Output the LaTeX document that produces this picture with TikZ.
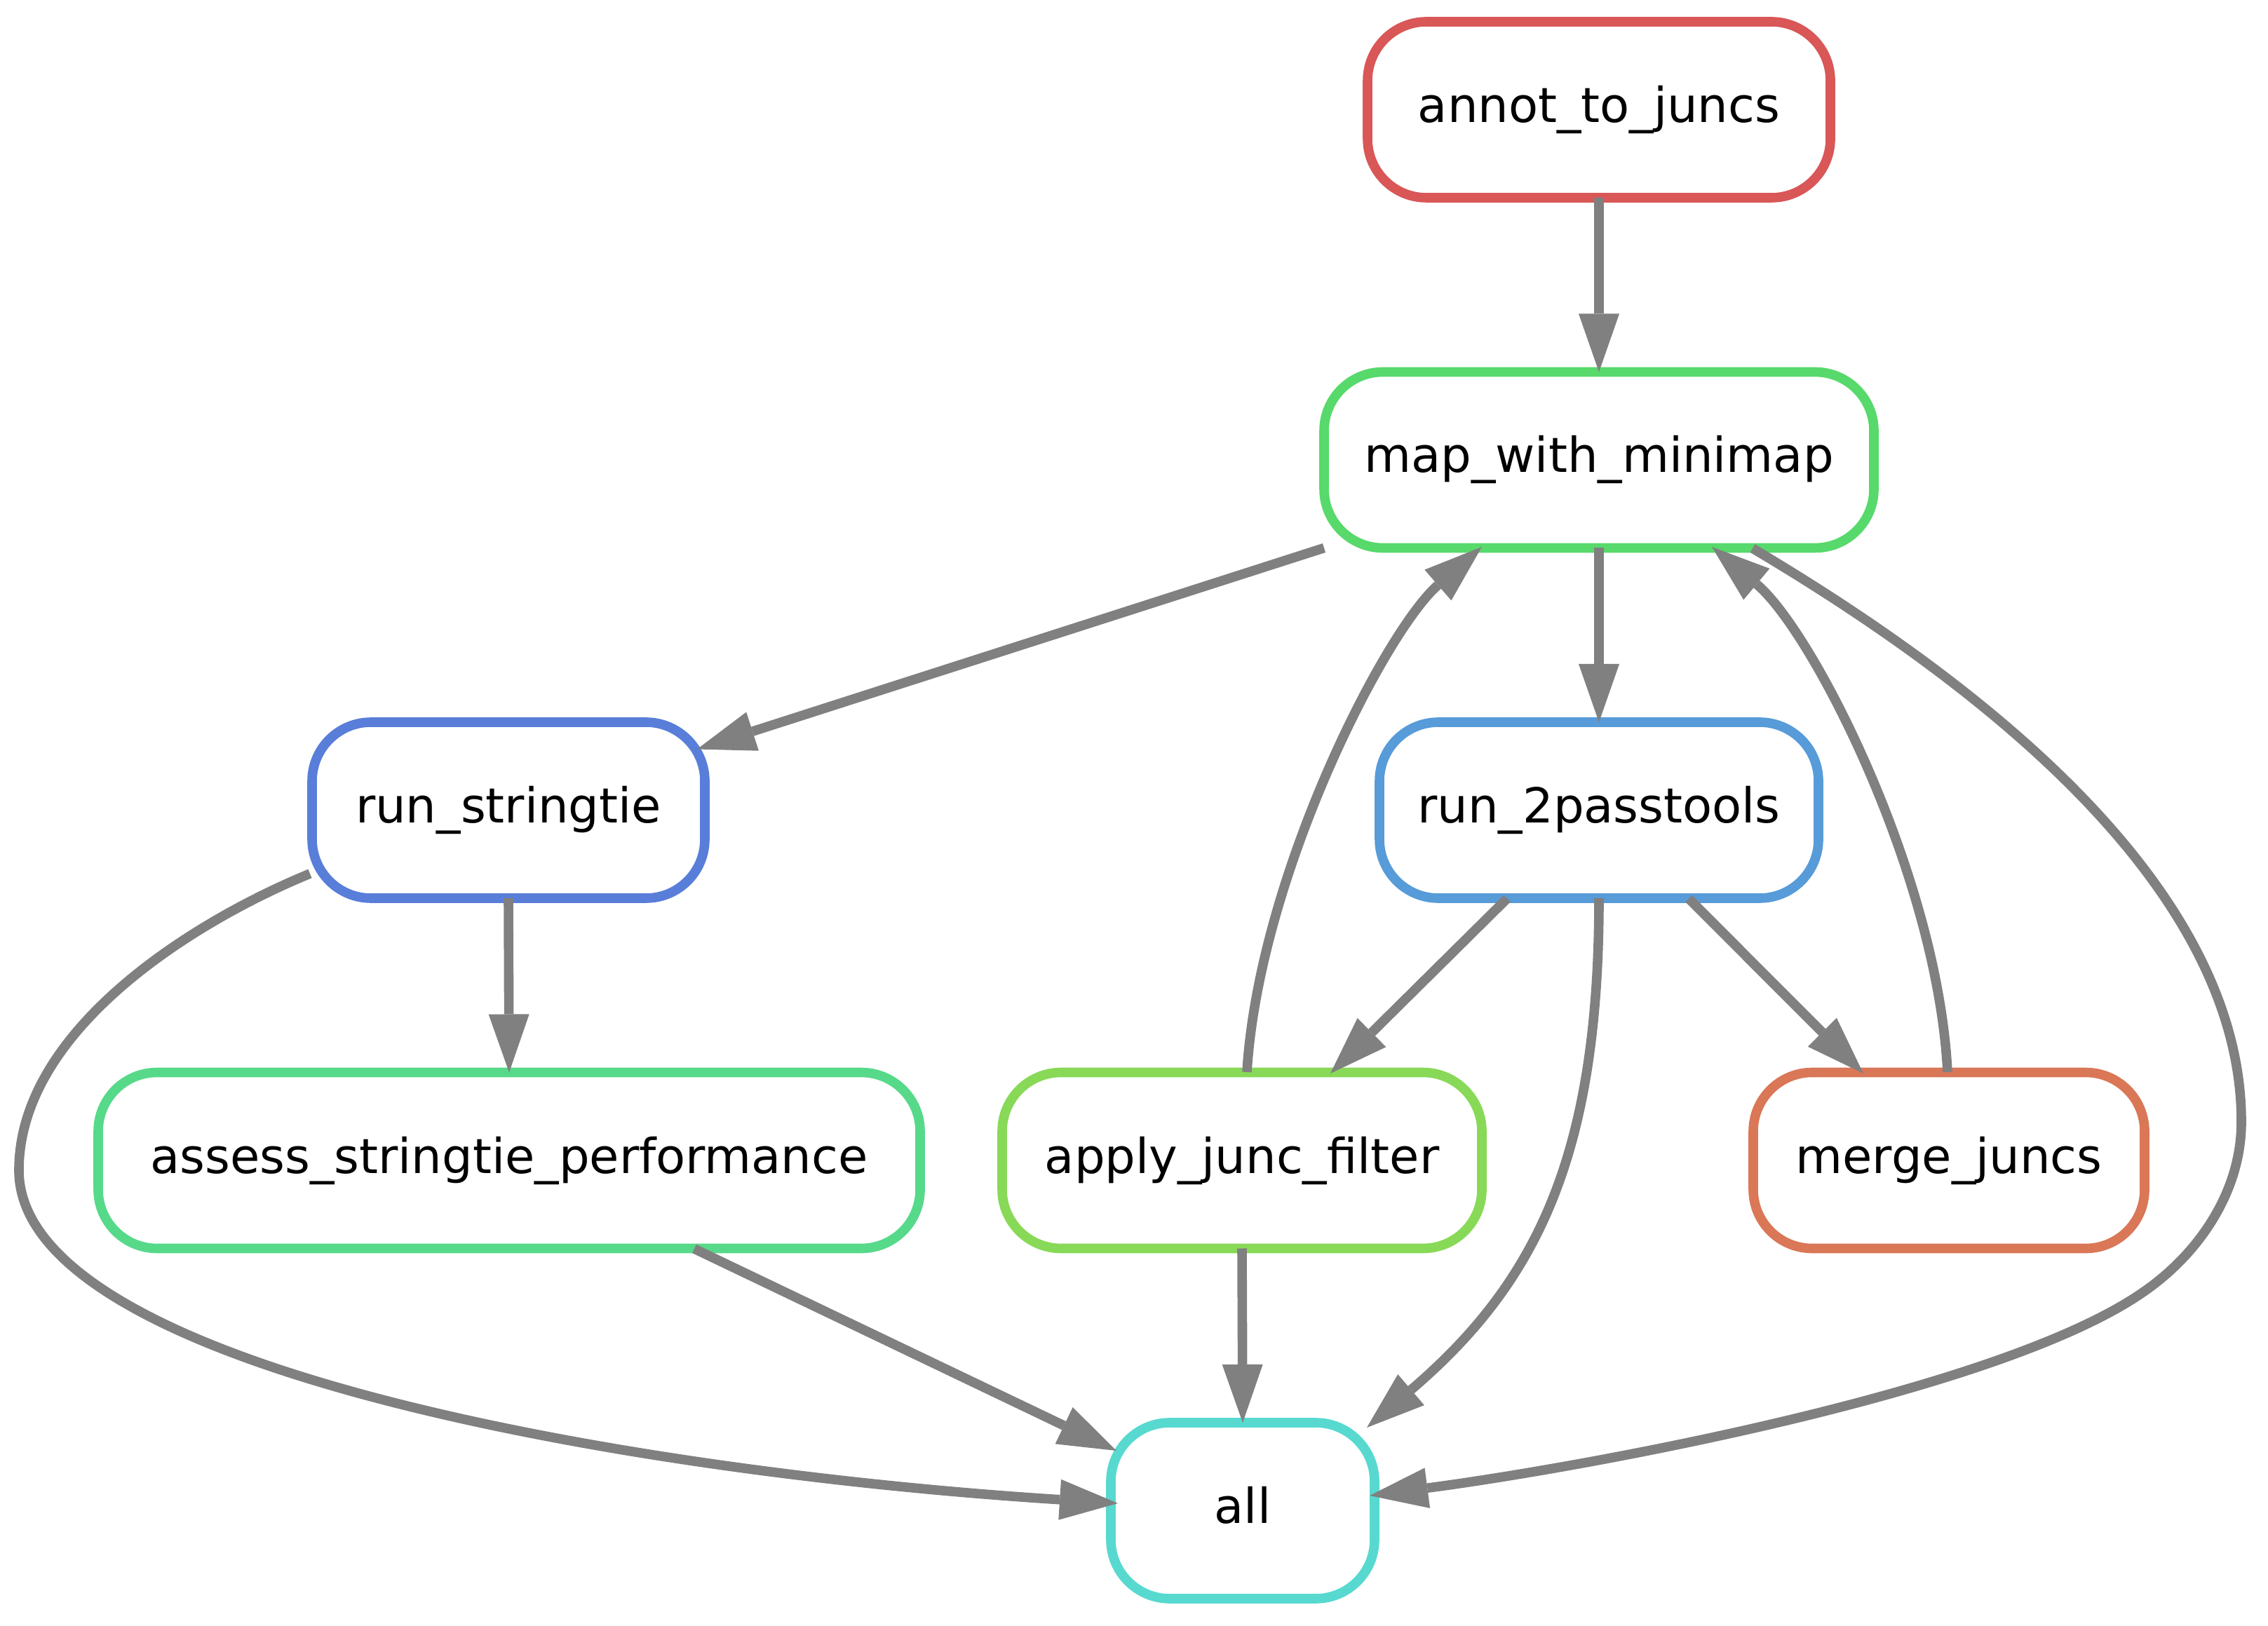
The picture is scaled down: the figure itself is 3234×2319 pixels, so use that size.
\documentclass[tikz,border=0pt]{standalone}
\usepackage{fontspec}
\newfontfamily\dvsans{DejaVu Sans}
\usetikzlibrary{arrows.meta,calc}
\definecolor{cannot}{HTML}{D95757}
\definecolor{cmap}{HTML}{57D96B}
\definecolor{cstring}{HTML}{587ED9}
\definecolor{ctwopass}{HTML}{579BD9}
\definecolor{cassess}{HTML}{57D98A}
\definecolor{capply}{HTML}{88D957}
\definecolor{cmerge}{HTML}{D97757}
\definecolor{call}{HTML}{57D9D0}
\definecolor{edgegray}{HTML}{808080}
\begin{document}
\begin{tikzpicture}[x=0.25pt,y=-0.25pt,
  rulebox/.style={draw=#1, line width=3.4pt, rounded corners=21pt, fill=white,
    rectangle, minimum height=62.75pt, inner sep=0pt, outer sep=0pt,
    font=\dvsans\fontsize{17.2pt}{20pt}\selectfont, text height=12pt, text depth=3pt},
  conn/.style={draw=edgegray, line width=3.4pt,
    -{Triangle[length=20.75pt,width=14.5pt,line width=0pt]}}]
\fill[white] (0,0) rectangle (3234,2319);
\useasboundingbox (0,0) rectangle (3234,2319);

\node[rulebox=cannot, minimum width=165pt] (annot) at (2280,156.5) {annot\_to\_juncs};
\node[rulebox=cmap, minimum width=196pt] (map) at (2280,656) {map\_with\_minimap};
\node[rulebox=cstring, minimum width=140pt] (st) at (725,1155.5) {run\_stringtie};
\node[rulebox=ctwopass, minimum width=156.5pt] (p2) at (2280,1155.5) {run\_2passtools};
\node[rulebox=cassess, minimum width=293pt] (as) at (726,1655) {assess\_stringtie\_performance};
\node[rulebox=capply, minimum width=171pt] (apply) at (1771,1655) {apply\_junc\_filter};
\node[rulebox=cmerge, minimum width=139.5pt] (merge) at (2779,1655) {merge\_juncs};
\node[rulebox=call, minimum width=94pt] (all) at (1772,2154.5) {all};

% straight edges
\draw[conn] (annot.south) -- (map.north);
\draw[conn] (map.south) -- (p2.north);
\draw[conn] (st.south) -- (as.north);
\draw[conn] (apply.south) -- (all.north);
\draw[conn] (map.south west) -- ($(st.center)+(269,-87)$);
\draw[conn] ($(p2.center)+(-131,126)$) -- ($(apply.center)+(126,-124)$);
\draw[conn] ($(p2.center)+(128,126)$) -- ($(merge.center)+(-122,-124)$);
\draw[conn] ($(as.center)+(264,126)$) -- ($(all.center)+(-180,-85.5)$);

% curved edges
\draw[conn] ($(apply.center)+(7,-126)$) .. controls (1795,1250) and (1975,900) .. ($(map.center)+(-167,124)$);
\draw[conn] ($(merge.center)+(-2,-126)$) .. controls (2763,1250) and (2585,900) .. ($(map.center)+(161,124)$);
\draw[conn] (p2.south) .. controls (2280,1650) and (2190,1830) .. ($(all.center)+(177,-118.5)$);
\draw[conn] ($(map.center)+(219,126)$) .. controls (2900,1020) and (3196,1300) .. (3196,1600)
  .. controls (3196,1700) and (3135,1787) .. (3060,1840)
  .. controls (2857,1985) and (2250,2094) .. ($(all.center)+(181,-21.5)$);
\draw[conn] ($(st.center)+(-283,90.5)$) .. controls (276,1314) and (27,1469) .. (27,1669)
  .. controls (27,1950) and (900,2100) .. ($(all.center)+(-178,-10.5)$);
\end{tikzpicture}
\end{document}
